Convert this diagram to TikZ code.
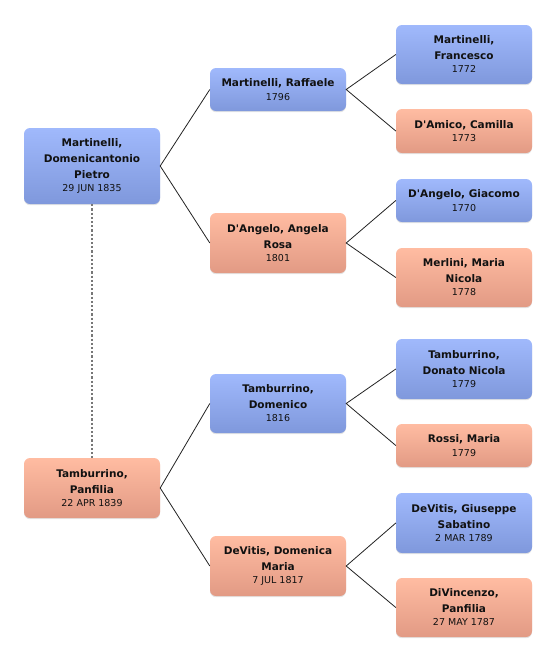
\documentclass[tikz,border=0pt]{standalone}
\usepackage{fontspec}
\setmainfont{DejaVu Sans}
\usetikzlibrary{shadows}
\definecolor{bluetop}{HTML}{A0B9FC}
\definecolor{bluebot}{HTML}{7F98DC}
\definecolor{pinktop}{HTML}{FFBCA2}
\definecolor{pinkbot}{HTML}{E29A84}
\definecolor{txt}{HTML}{111111}
\definecolor{linec}{HTML}{222222}
\definecolor{dashc}{HTML}{777777}
\newcommand{\pdate}[1]{\\[-2.4pt]{\fontsize{9.5}{15.7}\selectfont\mdseries #1}}
\newcommand{\apos}{\textquotesingle}
\tikzset{
  person/.style={rounded corners=6pt, minimum width=136pt, inner sep=0pt,
    align=center, text=txt, font=\fontsize{10.5}{15.7}\selectfont\bfseries,
    drop shadow={opacity=0.22, shadow xshift=0pt, shadow yshift=-1.2pt}},
  male/.style={person, top color=bluetop, bottom color=bluebot},
  female/.style={person, top color=pinktop, bottom color=pinkbot},
  link/.style={draw=linec, line width=0.8pt},
  spouse/.style={draw=dashc, line width=1.3pt, dash pattern=on 2.2pt off 2pt}
}
\begin{document}
\begin{tikzpicture}[x=1pt,y=-1pt]
\useasboundingbox (0,0) rectangle (556,662);
% column 1
\node[male, minimum height=76pt] (a) at (92,166) {Martinelli,\\Domenicantonio\\Pietro\pdate{29 JUN 1835}};
\node[female, minimum height=60pt] (b) at (92,488) {Tamburrino,\\Panfilia\pdate{22 APR 1839}};
% column 2
\node[male, minimum height=43pt] (c) at (278,89.5) {Martinelli, Raffaele\pdate{1796}};
\node[female, minimum height=60pt] (d) at (278,243) {D\apos Angelo, Angela\\Rosa\pdate{1801}};
\node[male, minimum height=59pt] (e) at (278,403.5) {Tamburrino,\\Domenico\pdate{1816}};
\node[female, minimum height=60pt] (f) at (278,566) {DeVitis, Domenica\\Maria\pdate{7 JUL 1817}};
% column 3
\node[male, minimum height=59pt] (g) at (464,54.5) {Martinelli,\\Francesco\pdate{1772}};
\node[female, minimum height=44pt] (h) at (464,131) {D\apos Amico, Camilla\pdate{1773}};
\node[male, minimum height=43pt] (i) at (464,200.5) {D\apos Angelo, Giacomo\pdate{1770}};
\node[female, minimum height=59pt] (j) at (464,277.5) {Merlini, Maria\\Nicola\pdate{1778}};
\node[male, minimum height=60pt] (k) at (464,369) {Tamburrino,\\Donato Nicola\pdate{1779}};
\node[female, minimum height=43pt] (l) at (464,445.5) {Rossi, Maria\pdate{1779}};
\node[male, minimum height=60pt] (m) at (464,523) {DeVitis, Giuseppe\\Sabatino\pdate{2 MAR 1789}};
\node[female, minimum height=59pt] (n) at (464,607.5) {DiVincenzo,\\Panfilia\pdate{27 MAY 1787}};
% connectors
\draw[spouse] (a.south) -- (b.north);
\draw[link] (c.west) -- (a.east) -- (d.west);
\draw[link] (e.west) -- (b.east) -- (f.west);
\draw[link] (g.west) -- (c.east) -- (h.west);
\draw[link] (i.west) -- (d.east) -- (j.west);
\draw[link] (k.west) -- (e.east) -- (l.west);
\draw[link] (m.west) -- (f.east) -- (n.west);
\end{tikzpicture}
\end{document}
